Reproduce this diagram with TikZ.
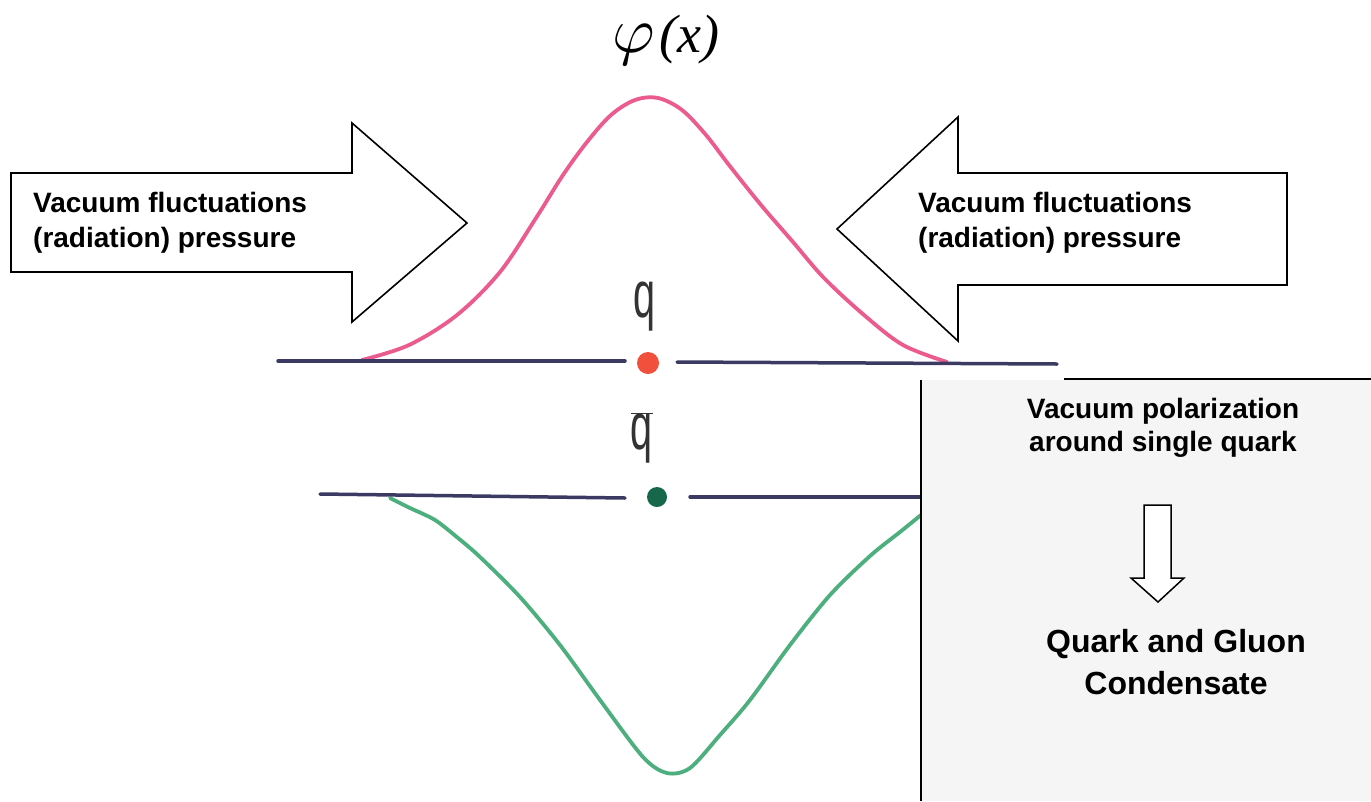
\documentclass[tikz,border=0pt]{standalone}
\usepackage{fontspec}
\setmainfont{Liberation Sans}
\newfontfamily\serifit{Liberation Serif}
\definecolor{pinkc}{HTML}{EC5B8E}
\definecolor{greenc}{HTML}{4CAF7D}
\definecolor{linec}{HTML}{3A3A62}
\definecolor{reddot}{HTML}{F0503C}
\definecolor{greendot}{HTML}{17684A}
\definecolor{boxgray}{HTML}{F5F5F5}
\definecolor{qgray}{HTML}{333333}
\begin{document}
\begin{tikzpicture}[x=1pt,y=-1pt,
  bigarrow/.style={draw=black, fill=white, line width=1.6pt, line join=miter},
  lbl/.style={font=\fontsize{28}{35}\selectfont\bfseries, inner sep=0pt, align=left},
  boxlbl/.style={font=\fontsize{28}{33}\selectfont\bfseries, inner sep=0pt, align=center},
  biglbl/.style={font=\fontsize{32}{42}\selectfont\bfseries, inner sep=0pt, align=center},
  axisline/.style={linec, line width=3.5pt, line cap=round},
  qlabel/.style={text=qgray, inner sep=0pt},
  dotnode/.style={circle, inner sep=0pt, draw=none}]
\useasboundingbox (0,0) rectangle (1371,801);
\fill[white] (0,0) rectangle (1371,801);

% title
\node (phi) at (666,40) {\scalebox{6.5}{$\varphi$}\hspace{4pt}{\fontsize{54}{58}\selectfont\serifit\itshape (x)}};

% big arrows
\draw[bigarrow] (11,173) -- (352,173) -- (352,123) -- (467,223) -- (352,322) -- (352,272) -- (11,272) -- cycle;
\draw[bigarrow] (1287,173) -- (958,173) -- (958,117) -- (837,229) -- (958,341) -- (958,285) -- (1287,285) -- cycle;
\node[lbl, anchor=west] (leftlbl) at (33,223) {Vacuum fluctuations\\(radiation) pressure};
\node[lbl, anchor=west] (rightlbl) at (918,223) {Vacuum fluctuations\\(radiation) pressure};

% pink curve
\draw[pinkc, line width=3.8pt, line cap=round] plot[smooth, tension=0.55] coordinates {
 (362,360) (409,345) (457,315) (500,272) (536,218) (563,175) (587,142) (611,115) (635,100) (658,98)
 (682,110) (706,135) (729,165) (761,205) (793,242) (824,278) (864,315) (903,345) (947,362)};

% green curve
\draw[greenc, line width=3.8pt, line cap=round] plot[smooth, tension=0.5] coordinates {
 (390,498) (410,508) (435,520) (458,538) (480,557) (520,597) (560,645) (600,700) (643,757) (667,773)
 (690,768) (720,735) (750,700) (790,645) (830,595) (870,556) (900,532) (921,515)};

% axis lines and charges
\node[dotnode, fill=reddot, minimum size=22pt] (qdot) at (648,363) {};
\node[dotnode, fill=greendot, minimum size=20pt] (qbardot) at (657,497) {};
\coordinate (ua) at (278,361);
\coordinate (ub) at (625,361);
\coordinate (uc) at (677,362);
\coordinate (ud) at (1057,364);
\coordinate (la) at (320,494);
\coordinate (lb) at (625,498);
\coordinate (lc) at (690,497);
\coordinate (ld) at (921,497);
\draw[axisline] (ua) -- (ub);
\draw[axisline] (uc) -- (ud);
\draw[axisline] (la) -- (lb);
\draw[axisline] (lc) -- (ld);
\node[qlabel] (qlbl) at (645,307) {\scalebox{0.6}[1]{\fontsize{66}{66}\selectfont q}};
\node[qlabel] (qbarlbl) at (642,438) {\scalebox{0.6}[1]{\fontsize{66}{66}\selectfont$\overline{\mbox{q}}$}};

% side box
\fill[boxgray] (921,380) rectangle (1371,801);
\draw[line width=2pt] (1064,379) -- (1371,379);
\draw[line width=2pt] (921,380) -- (921,801);
\node[boxlbl] (pol) at (1163,428) {Vacuum polarization\\ around single quark};
\draw[line width=1.5pt, fill=white] (1144,505) -- (1171,505) -- (1171,578) -- (1184,578) -- (1158,602) -- (1131,578) -- (1144,578) -- cycle;
\node[biglbl] (cond) at (1176,662) {Quark and Gluon\\Condensate};
\end{tikzpicture}
\end{document}
